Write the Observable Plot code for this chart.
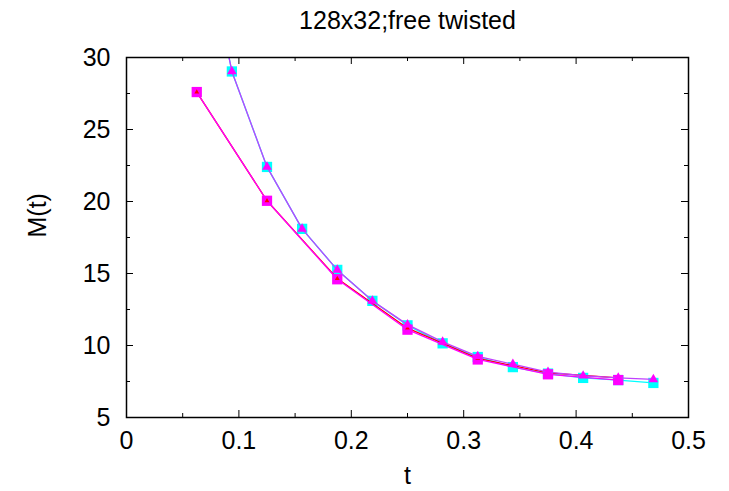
<!DOCTYPE html>
<html>
<head>
<meta charset="utf-8">
<script src="https://cdn.jsdelivr.net/npm/d3@7"></script>
<script src="https://cdn.jsdelivr.net/npm/@observablehq/plot@0.6"></script>
<style>
  html, body { margin: 0; padding: 0; background: #fff; }
  #chart svg { display: block; }
</style>
</head>
<body>
<div id="chart"></div>
<script>
// ---- data ----
const title = "128x32;free twisted";
const xLabel = "t";
const yLabel = "M(t)";

// coarse grid (step 1/16): magenta squares and red triangles
const tCoarse = [0.0625, 0.125, 0.1875, 0.25, 0.3125, 0.375, 0.4375];
const mMagenta = [27.6, 20.05, 14.6, 11.1, 9.03, 8.0, 7.6];
const mRed = [27.6, 20.05, 14.65, 11.2, 9.1, 8.1, 7.75];

// fine grid (step 1/32): cyan squares and magenta triangles (purple line)
const tFine = [0.0625, 0.09375, 0.125, 0.15625, 0.1875, 0.21875, 0.25, 0.28125, 0.3125, 0.34375, 0.375, 0.40625, 0.4375, 0.46875];
const mCyan = [41, 29.03, 22.4, 18.1, 15.25, 13.1, 11.4, 10.15, 9.2, 8.5, 8.05, 7.75, 7.6, 7.4];
const mTri = [41, 29.03, 22.4, 18.1, 15.25, 13.1, 11.45, 10.25, 9.25, 8.7, 8.15, 7.9, 7.75, 7.65];

// axis ticks
const xMajor = [0, 0.1, 0.2, 0.3, 0.4, 0.5];
const xMinor = [0.05, 0.15, 0.25, 0.35, 0.45];
const yMajor = [5, 10, 15, 20, 25, 30];
const yMinor = [7.5, 12.5, 17.5, 22.5, 27.5];

// ---- build tables ----
const magenta = tCoarse.map((t, i) => ({t, m: mMagenta[i]}));
const red = tCoarse.map((t, i) => ({t, m: mRed[i]}));
const cyan = tFine.map((t, i) => ({t, m: mCyan[i]}));
const tri = tFine.map((t, i) => ({t, m: mTri[i]}));

const W = 729, H = 491;
const mL = 126, mR = 41, mT = 57, mB = 74;
const pw = W - mL - mR, ph = H - mT - mB;
const font = "'Liberation Sans', Arial, Helvetica, sans-serif";
const fs = 25;

const chart = Plot.plot({
  width: W,
  height: H,
  marginLeft: mL,
  marginRight: mR,
  marginTop: mT,
  marginBottom: mB,
  style: {fontFamily: font, background: "#fff", color: "#000"},
  x: {domain: [0, 0.5]},
  y: {domain: [5, 30]},
  marks: [
    // tick labels
    Plot.axisX(xMajor, {tickSize: 0, tickPadding: 14, fontSize: fs, label: null, tickFormat: d => d3.format("")(d)}),
    Plot.axisY(yMajor, {tickSize: 0, tickPadding: 16, fontSize: fs, label: null, tickFormat: d => d3.format("")(d)}),
    // inward ticks on all four sides
    Plot.tickX(xMajor, {x: d => d, insetTop: ph - 7, stroke: "#000"}),
    Plot.tickX(xMajor, {x: d => d, insetBottom: ph - 7, stroke: "#000"}),
    Plot.tickX(xMinor, {x: d => d, insetTop: ph - 4, stroke: "#000"}),
    Plot.tickX(xMinor, {x: d => d, insetBottom: ph - 4, stroke: "#000"}),
    Plot.tickY(yMajor, {y: d => d, insetRight: pw - 7, stroke: "#000"}),
    Plot.tickY(yMajor, {y: d => d, insetLeft: pw - 7, stroke: "#000"}),
    Plot.tickY(yMinor, {y: d => d, insetRight: pw - 4, stroke: "#000"}),
    Plot.tickY(yMinor, {y: d => d, insetLeft: pw - 4, stroke: "#000"}),
    // series: cyan squares
    Plot.line(cyan, {x: "t", y: "m", stroke: "#00ffff", strokeWidth: 1.3, clip: true}),
    Plot.dot(cyan, {x: "t", y: "m", symbol: "square", r: 5.8, fill: "#00ffff", stroke: "none", clip: true}),
    // red line (under magenta)
    Plot.line(red, {x: "t", y: "m", stroke: "#ff0000", strokeWidth: 1.3, clip: true}),
    // magenta squares
    Plot.line(magenta, {x: "t", y: "m", stroke: "#ff00ff", strokeWidth: 1.3, clip: true}),
    Plot.dot(magenta, {x: "t", y: "m", symbol: "square", r: 5.8, fill: "#ff00ff", stroke: "none", clip: true}),
    // red triangles
    Plot.dot(red, {x: "t", y: "m", symbol: "triangle", r: 1.8, fill: "#ff0000", stroke: "none", clip: true}),
    // purple line with magenta triangles
    Plot.line(tri, {x: "t", y: "m", stroke: "#c040ff", strokeWidth: 1.3, clip: true}),
    Plot.dot(tri, {x: "t", y: "m", symbol: "triangle", r: 3.6, fill: "#ff00ff", stroke: "none", clip: true}),
    // frame
    Plot.frame({stroke: "#000", strokeWidth: 1.5}),
    // titles
    Plot.text([title], {frameAnchor: "top", dy: -46, fontSize: 25, fill: "#000"}),
    Plot.text([yLabel], {frameAnchor: "left", dx: -89, rotate: -90, fontSize: fs, fill: "#000"}),
    Plot.text([xLabel], {frameAnchor: "bottom", dy: 66, fontSize: fs, fill: "#000"})
  ]
});
document.getElementById("chart").appendChild(chart);
</script>
</body>
</html>
